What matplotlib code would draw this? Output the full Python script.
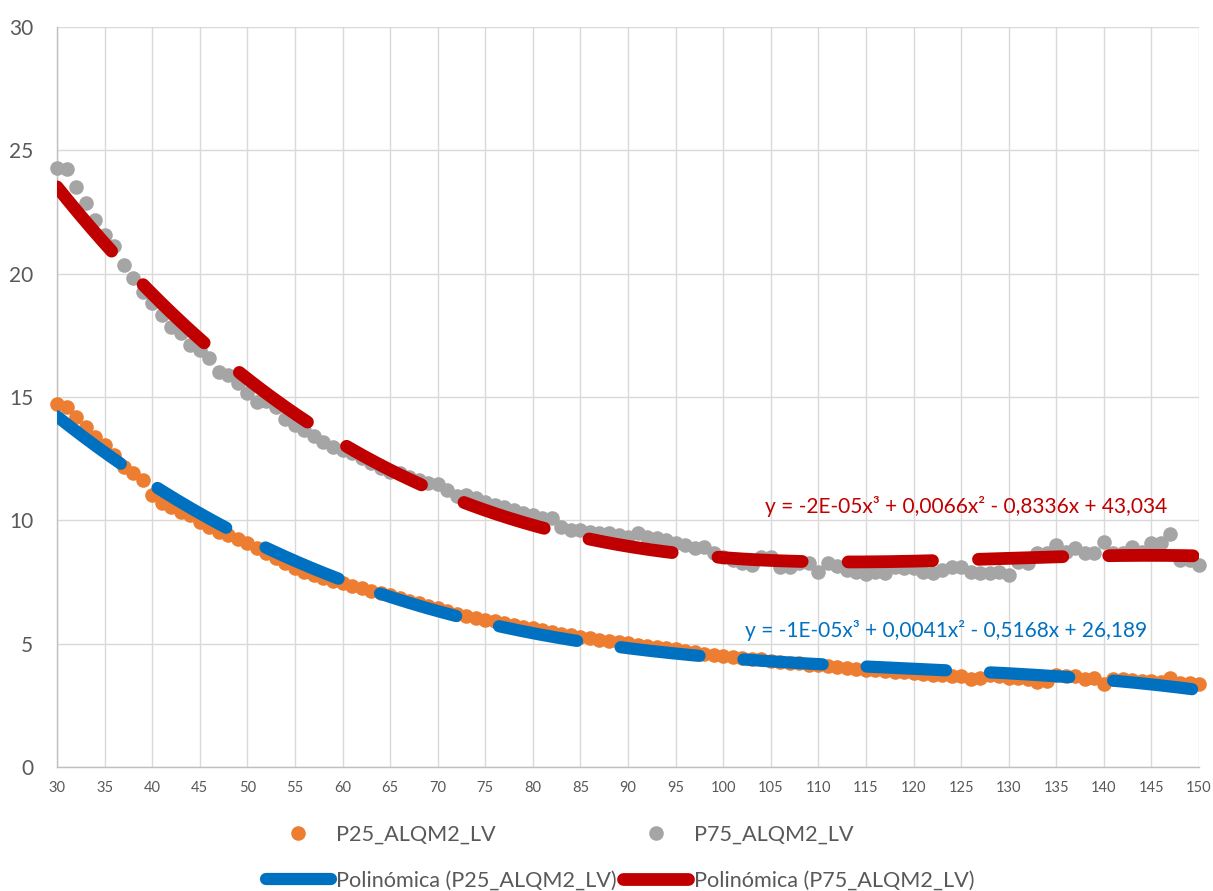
import matplotlib.pyplot as plt
import numpy as np
from matplotlib.lines import Line2D

plt.rcParams['font.family'] = ['Lato', 'DejaVu Sans']

# edad (x) y percentiles
edad = list(range(30, 151))

p25 = [14.71, 14.60, 14.17, 13.79, 13.39, 13.05, 12.65, 12.17, 11.90, 11.63,
       11.03, 10.69, 10.55, 10.35, 10.21, 9.94, 9.74, 9.54, 9.40, 9.23,
       9.07, 8.86, 8.66, 8.46, 8.26, 8.05, 7.92, 7.80, 7.68, 7.55,
       7.45, 7.35, 7.25, 7.15, 7.06, 6.97, 6.86, 6.74, 6.64, 6.53,
       6.43, 6.33, 6.22, 6.13, 6.05, 5.96, 5.90, 5.82, 5.76, 5.69,
       5.62, 5.55, 5.48, 5.41, 5.35, 5.28, 5.22, 5.16, 5.11, 5.06,
       5.01, 4.95, 4.90, 4.86, 4.82, 4.77, 4.72, 4.66, 4.60, 4.55,
       4.50, 4.47, 4.43, 4.38, 4.36, 4.31, 4.27, 4.22, 4.20, 4.15,
       4.12, 4.10, 4.05, 4.00, 3.98, 3.95, 3.93, 3.90, 3.86, 3.84,
       3.80, 3.78, 3.74, 3.73, 3.70, 3.68, 3.55, 3.62, 3.72, 3.68,
       3.60, 3.62, 3.55, 3.45, 3.50, 3.72, 3.70, 3.68, 3.55, 3.60,
       3.35, 3.55, 3.56, 3.52, 3.50, 3.48, 3.45, 3.62, 3.42, 3.40,
       3.35]

p75 = [24.27, 24.25, 23.52, 22.85, 22.17, 21.56, 21.12, 20.35, 19.81, 19.27,
       18.80, 18.32, 17.85, 17.60, 17.11, 16.90, 16.57, 16.02, 15.89, 15.55,
       15.15, 14.81, 14.85, 14.60, 14.09, 13.86, 13.66, 13.42, 13.19, 12.98,
       12.85, 12.72, 12.51, 12.31, 12.11, 11.97, 11.90, 11.77, 11.63, 11.50,
       11.47, 11.23, 11.00, 11.03, 10.89, 10.75, 10.62, 10.55, 10.42, 10.28,
       10.21, 10.08, 10.08, 9.74, 9.61, 9.61, 9.54, 9.50, 9.47, 9.40,
       9.34, 9.50, 9.34, 9.27, 9.20, 9.09, 9.00, 8.86, 8.93, 8.66,
       8.52, 8.39, 8.26, 8.19, 8.52, 8.52, 8.12, 8.12, 8.26, 8.26,
       7.92, 8.26, 8.15, 7.99, 7.92, 7.82, 7.92, 7.85, 8.12, 8.05,
       8.05, 7.92, 7.85, 7.99, 8.12, 8.12, 7.92, 7.85, 7.85, 7.92,
       7.78, 8.32, 8.26, 8.66, 8.66, 9.00, 8.73, 8.86, 8.66, 8.66,
       9.13, 8.66, 8.66, 8.93, 8.73, 9.07, 9.07, 9.44, 8.39, 8.39,
       8.19]

eq_p25 = 'y = -1E-05x³ + 0,0041x² - 0,5168x + 26,189'
eq_p75 = 'y = -2E-05x³ + 0,0066x² - 0,8336x + 43,034'

c_p25 = '#ED7D31'
c_p75 = '#A5A5A5'
c_fit25 = '#0070C0'
c_fit75 = '#C00000'

fig = plt.figure(figsize=(12.13, 8.91), dpi=100)
ax = fig.add_axes([0.047, 0.1392, 0.9415, 0.8305])

ax.plot(edad, p25, 'o', color=c_p25, markersize=10.5, markeredgewidth=0, clip_on=False, zorder=3)
ax.plot(edad, p75, 'o', color=c_p75, markersize=10.5, markeredgewidth=0, clip_on=False, zorder=3)

# trendlines (cubic fit, like Excel "Polinómica" order 3)
xx = np.linspace(30, 150, 600)
fit25 = np.polyval(np.polyfit(edad, p25, 3), xx)
fit75 = np.polyval(np.polyfit(edad, p75, 3), xx)
ax.plot(xx, fit25, color=c_fit25, lw=8.8, linestyle=(0, (6.5, 3.6)),
        dash_capstyle='round', zorder=4)
ax.plot(xx, fit75, color=c_fit75, lw=9.2, linestyle=(0, (6.6, 3.6)),
        dash_capstyle='round', zorder=4)

ax.text(123.4, 5.55, eq_p25, color=c_fit25, fontsize=15, ha='center', va='center', zorder=5)
ax.text(125.5, 10.54, eq_p75, color=c_fit75, fontsize=15, ha='center', va='center', zorder=5)

ax.set_xlim(30, 150)
ax.set_ylim(0, 30)
ax.set_xticks(range(30, 151, 5))
ax.set_yticks(range(0, 31, 5))
ax.grid(True, color='#D9D9D9', linewidth=1.0, zorder=0)
ax.set_axisbelow(True)
for s in ['top', 'right']:
    ax.spines[s].set_visible(False)
for s in ['left', 'bottom']:
    ax.spines[s].set_color('#BFBFBF')
    ax.spines[s].set_linewidth(1.0)
ax.tick_params(axis='x', length=0, pad=10, labelsize=10.5, labelcolor='#595959')
ax.tick_params(axis='y', length=0, pad=17, labelsize=15, labelcolor='#595959')

handles = [
    Line2D([], [], marker='o', linestyle='none', color=c_p25, markersize=10.5, markeredgewidth=0),
    Line2D([], [], color=c_fit25, lw=8.8, solid_capstyle='round'),
    Line2D([], [], marker='o', linestyle='none', color=c_p75, markersize=10.5, markeredgewidth=0),
    Line2D([], [], color=c_fit75, lw=9.2, solid_capstyle='round'),
]
labels = ['P25_ALQM2_LV', 'Polinómica (P25_ALQM2_LV)',
          'P75_ALQM2_LV', 'Polinómica (P75_ALQM2_LV)']
fig.legend(handles, labels, ncol=2, loc='center', bbox_to_anchor=(0.511, 0.037),
           frameon=False, fontsize=15.6, handlelength=3.0, handletextpad=0.25,
           columnspacing=0.3, labelspacing=1.2, labelcolor='#595959')

fig.savefig('out.png', dpi=100)
